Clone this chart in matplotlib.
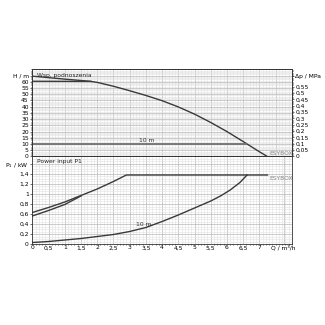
import numpy as np
import matplotlib
matplotlib.use("Agg")
import matplotlib.pyplot as plt
from matplotlib.ticker import MultipleLocator, FixedLocator

# pump head curve (max speed)
q_head = [0.0, 0.5, 1.0, 1.5, 1.8, 2.0, 2.5, 3.0, 3.5, 4.0, 4.5, 5.0, 5.5, 6.0, 6.5, 7.0, 7.22]
h_head = [64.5, 63.3, 62.1, 61.0, 60.3, 59.5, 56.4, 52.8, 49.0, 44.8, 39.8, 34.0, 27.3, 20.0, 12.0, 3.8, 0.4]
# flat section of the max curve
q_flat = [0.0, 1.8]
h_flat = [60.4, 60.3]
# 10 m set point
q_10m = [0.0, 6.6]
h_10m = [10.0, 10.0]

# power input curves
q_p1a = [0.0, 0.5, 1.0, 1.5, 2.0, 2.5, 2.9, 7.25]
p_p1a = [0.63, 0.73, 0.84, 0.97, 1.10, 1.25, 1.38, 1.38]
q_p1b = [0.0, 0.5, 1.0, 1.5]
p_p1b = [0.56, 0.67, 0.79, 0.96]
q_p10 = [0.0, 0.5, 1.0, 1.5, 2.0, 2.5, 3.0, 3.5, 4.0, 4.5, 5.0, 5.5, 5.8, 6.1, 6.4, 6.62]
p_p10 = [0.03, 0.05, 0.08, 0.11, 0.15, 0.19, 0.25, 0.33, 0.45, 0.58, 0.72, 0.86, 0.96, 1.08, 1.23, 1.38]

x_ticks = [0, 0.5, 1, 1.5, 2, 2.5, 3, 3.5, 4, 4.5, 5, 5.5, 6, 6.5, 7]
h_ticks = list(range(0, 65, 5))
p_ticks = [0, 0.2, 0.4, 0.6, 0.8, 1.0, 1.2, 1.4]
mpa_ticks = [0, 0.05, 0.1, 0.15, 0.2, 0.25, 0.3, 0.35, 0.4, 0.45, 0.5, 0.55]

def fmt(v):
    s = ("%g" % v).replace(".", ",")
    return s

fs = 4.3
line_c = "#3a3a3a"
grid_major = "#b8b8b8"
grid_minor = "#e2e2e2"

fig = plt.figure(figsize=(3.25, 3.25), dpi=100)
ax1 = fig.add_axes([0.0994, 0.5185, 0.7986, 0.2683])
ax2 = fig.add_axes([0.0994, 0.2492, 0.7986, 0.2693])

for ax in (ax1, ax2):
    ax.set_xlim(0, 8)
    ax.xaxis.set_major_locator(MultipleLocator(0.5))
    ax.xaxis.set_minor_locator(MultipleLocator(0.1))
    ax.grid(which="major", color=grid_major, lw=0.5)
    ax.grid(which="minor", color=grid_minor, lw=0.4)
    ax.set_axisbelow(True)
    for s in ax.spines.values():
        s.set_linewidth(0.6)
        s.set_color("#333333")
    ax.tick_params(which="both", direction="out", length=1.5, width=0.4, labelsize=fs, pad=1)
    ax.tick_params(which="minor", length=1.0)

# top panel
ax1.set_ylim(0, 70)
ax1.yaxis.set_major_locator(FixedLocator(h_ticks + [65]))
ax1.set_yticklabels([str(v) for v in h_ticks] + ["H / m"])
ax1.yaxis.set_minor_locator(MultipleLocator(1))
ax1.tick_params(axis="x", which="both", labelbottom=False, length=0)
ax1.plot(q_head, h_head, color=line_c, lw=1.0)
ax1.plot(q_flat, h_flat, color=line_c, lw=1.0)
ax1.plot(q_10m, h_10m, color="#707070", lw=1.3)
ax1.text(3.3, 11.5, "10 m", fontsize=fs, color="#333333")
ax1.text(0.15, 65, "Wsp. podnoszenia", fontsize=fs, va="center", color="#222222")
ax1.text(7.3, 1.5, "ESYBOX", fontsize=fs, color="#888888")

axr = ax1.twinx()
axr.set_ylim(0, 70 / 102.0)
axr.yaxis.set_major_locator(FixedLocator(mpa_ticks + [65 / 102.0]))
axr.set_yticklabels([fmt(v) for v in mpa_ticks] + ["Δp / MPa"])
axr.tick_params(direction="out", length=1.5, width=0.4, labelsize=fs, pad=1)
axr.yaxis.set_minor_locator(MultipleLocator(0.01))
axr.tick_params(which="minor", length=1.0, width=0.4)
for s in axr.spines.values():
    s.set_linewidth(0.6)
    s.set_color("#333333")

# bottom panel
ax2.set_ylim(0, 1.75)
ax2.yaxis.set_major_locator(FixedLocator(p_ticks + [1.6]))
ax2.set_yticklabels([fmt(v) for v in p_ticks] + ["P$_1$ / kW"])
ax2.yaxis.set_minor_locator(MultipleLocator(0.05))
ax2.xaxis.set_major_locator(FixedLocator(x_ticks + [7.75]))
ax2.set_xticklabels([fmt(v) for v in x_ticks] + ["Q / m³/h"])
ax2.tick_params(axis="x", which="major", length=0)
ax2.tick_params(axis="y", which="minor", length=0)
ax2.grid(which="major", axis="x", color=grid_major, lw=0.5)
ax2.plot(q_p1a, p_p1a, color=line_c, lw=1.0)
ax2.plot(q_p1b, p_p1b, color=line_c, lw=1.0)
ax2.plot(q_p10, p_p10, color=line_c, lw=1.0)
ax2.text(3.2, 0.37, "10 m", fontsize=fs, color="#333333")
ax2.text(0.15, 1.65, "Power input P1", fontsize=fs, va="center", color="#222222")
ax2.text(7.3, 1.28, "ESYBOX", fontsize=fs, color="#888888")

fig.savefig("out.png", dpi=100)
